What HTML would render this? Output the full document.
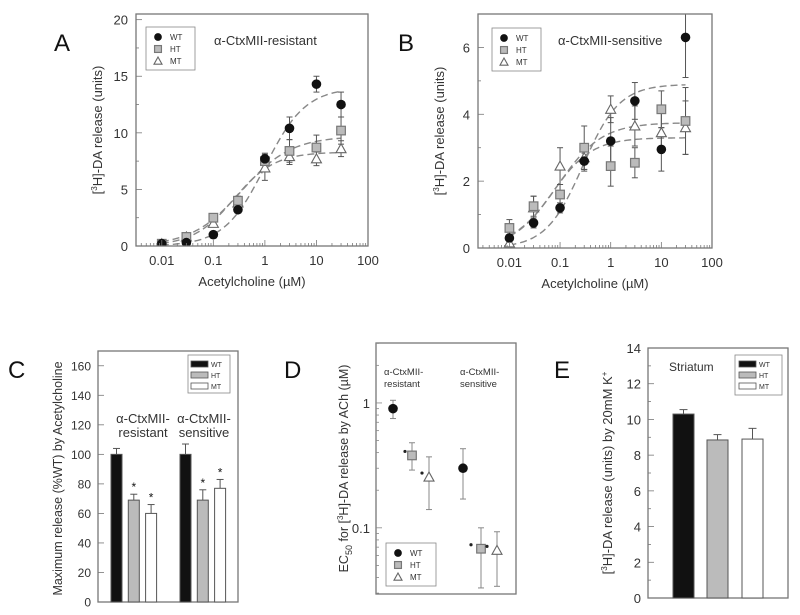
<!DOCTYPE html>
<html><head><meta charset="utf-8">
<style>
body{margin:0;background:#fff;}
svg{display:block;font-family:"Liberation Sans",sans-serif;}
</style></head>
<body>
<svg id="fig" width="800" height="615" viewBox="0 0 800 615"></svg>
<script>
// ---------- Panel A data ----------
const concA = [0.01, 0.03, 0.1, 0.3, 1, 3, 10, 30];
const aWT = [0.2, 0.3, 1.0, 3.2, 7.7, 10.4, 14.3, 12.5];
const aWTerr = [0.1, 0.1, 0.15, 0.2, 0.4, 1.0, 0.7, 1.1];
const aHT = [0.2, 0.8, 2.5, 4.0, 7.5, 8.4, 8.7, 10.2];
const aHTerr = [0.1, 0.15, 0.3, 0.4, 0.7, 1.0, 1.1, 1.2];
const aMT = [0.2, 0.8, 2.0, 3.8, 6.9, 7.9, 7.7, 8.6];
const aMTerr = [0.1, 0.1, 0.3, 0.4, 1.1, 0.7, 0.6, 0.7];
const aFitTop = [14, 9.7, 8.3];
const aFitEC50 = [1.0, 0.35, 0.25];
const aFitHill = [1.1, 0.9, 1.1];
const yTicksA = [0, 5, 10, 15, 20];
const xTickLabels = ["0.01", "0.1", "1", "10", "100"];
const xTickVals = [0.01, 0.1, 1, 10, 100];
// ---------- Panel B data ----------
const concB = [0.01, 0.03, 0.1, 0.3, 1, 3, 10, 30];
const bWT = [0.3, 0.75, 1.2, 2.6, 3.2, 4.4, 2.95, 6.3];
const bWTerr = [0.1, 0.15, 0.15, 0.3, 0.7, 0.55, 0.65, 1.2];
const bHT = [0.6, 1.25, 1.6, 3.0, 2.45, 2.55, 4.15, 3.8];
const bHTerr = [0.25, 0.3, 0.3, 0.65, 0.6, 0.45, 0.55, 1.0];
const bMT = [0.15, 1.2, 2.45, 2.7, 4.15, 3.65, 3.45, 3.6];
const bMTerr = [0.1, 0.35, 0.55, 0.35, 0.4, 0.6, 0.6, 0.8];
const bFitTop = [4.9, 3.3, 3.75];
const bFitEC50 = [0.28, 0.07, 0.09];
const bFitHill = [1.2, 1.1, 1.0];
const yTicksB = [0, 2, 4, 6];
// ---------- Panel C data ----------
const cGroups = ["resistant", "sensitive"];
const cWT = [100, 100];
const cWTerr = [4, 7];
const cHT = [69, 69];
const cHTerr = [4, 7];
const cMT = [60, 77];
const cMTerr = [6, 6];
const yTicksC = [0, 20, 40, 60, 80, 100, 120, 140, 160];
// ---------- Panel D data ----------
const dWT = [0.9, 0.30];
const dWTlo = [0.75, 0.17];
const dWThi = [1.05, 0.43];
const dHT = [0.38, 0.068];
const dHTlo = [0.29, 0.033];
const dHThi = [0.48, 0.10];
const dMT = [0.255, 0.066];
const dMTlo = [0.14, 0.034];
const dMThi = [0.37, 0.093];
// ---------- Panel E data ----------
const eLabels = ["WT", "HT", "MT"];
const eVals = [10.3, 8.85, 8.9];
const eErr = [0.25, 0.3, 0.6];
const yTicksE = [0, 2, 4, 6, 8, 10, 12, 14];

const svg = document.getElementById('fig');
const NS = 'http://www.w3.org/2000/svg';
function mk(tag, attrs, parent) {
  const e = document.createElementNS(NS, tag);
  for (const k in attrs) e.setAttribute(k, attrs[k]);
  (parent || svg).appendChild(e);
  return e;
}
function txt(s, x, y, size, opts, parent) {
  const t = mk('text', Object.assign({x: x, y: y, 'font-size': size, fill: '#333'}, opts || {}), parent);
  t.textContent = s;
  return t;
}
const L10 = Math.log10;
const defs = mk('defs', {});

function marker(kind, x, y, g, s) {
  s = s || 1;
  let m;
  if (kind === 0) m = mk('circle', {cx: x, cy: y, r: 4.8 * s, fill: '#111'}, g);
  else if (kind === 1) m = mk('rect', {x: x - 4.3 * s, y: y - 4.3 * s, width: 8.6 * s, height: 8.6 * s, fill: '#bbb', stroke: '#777', 'stroke-width': 1.2}, g);
  else m = mk('path', {d: `M${x},${y - 5 * s} L${x + 5 * s},${y + 4 * s} L${x - 5 * s},${y + 4 * s} Z`, fill: '#fff', stroke: '#666', 'stroke-width': 1.1}, g);
  return m;
}
function errbar(x, y1, y2, g, col) {
  mk('line', {x1: x, x2: x, y1: y1, y2: y2, stroke: col || '#666', 'stroke-width': 1}, g);
  mk('line', {x1: x - 3, x2: x + 3, y1: y1, y2: y1, stroke: col || '#666', 'stroke-width': 1}, g);
  mk('line', {x1: x - 3, x2: x + 3, y1: y2, y2: y2, stroke: col || '#666', 'stroke-width': 1}, g);
}
function legendMarkers(g, x, y, dy, fs) {
  const names = ['WT', 'HT', 'MT'];
  for (let i = 0; i < 3; i++) {
    marker(i, x, y + i * dy, g, 0.8);
    txt(names[i], x + 12, y + i * dy + 3, fs, {}, g);
  }
}
function legendBars(g, x, y, dy, fs) {
  const fills = ['#111', '#bbb', '#fff'];
  const names = ['WT', 'HT', 'MT'];
  for (let i = 0; i < 3; i++) {
    mk('rect', {x: x, y: y + i * dy - 3, width: 17, height: 6, fill: fills[i], stroke: '#555', 'stroke-width': 0.8}, g);
    txt(names[i], x + 20, y + i * dy + 3, fs, {}, g);
  }
}

// ---------- dose-response panel ----------
function doseResponse(cfg) {
  const g = mk('g', {});
  
  
  const {L, R, T, B, xmin, xmax, ymax} = cfg;
  const sx = v => L + (L10(v) - xmin) / (xmax - xmin) * (R - L);
  const sy = v => B - v / ymax * (B - T);
  const cp = mk('clipPath', {id: 'clip-' + cfg.name}, defs);
  mk('rect', {x: L, y: T, width: R - L, height: B - T}, cp);
  const pg = mk('g', {'clip-path': `url(#clip-${cfg.name})`}, g);
  mk('rect', {x: L, y: T, width: R - L, height: B - T, fill: 'none', stroke: '#777', 'stroke-width': 1.3}, g);
  for (let d = Math.floor(xmin); d < xmax; d++) {
    for (let k = 1; k < 10; k++) {
      const v = k * Math.pow(10, d);
      if (L10(v) < xmin) continue;
      const x = sx(v);
      const len = k === 1 ? 6 : 3;
      mk('line', {x1: x, x2: x, y1: B, y2: B - len, stroke: '#777', 'stroke-width': 0.8}, g);
    }
  }
  xTickVals.forEach((v, i) => {
    const t = txt(xTickLabels[i], sx(v), B + 19, 13, {'text-anchor': 'middle'}, g);
    
    
  });
  cfg.yticks.forEach(v => {
    mk('line', {x1: L, x2: L + 6, y1: sy(v), y2: sy(v), stroke: '#777', 'stroke-width': 0.8}, g);
    const t = txt(String(v), L - 8, sy(v) + 5, 13, {'text-anchor': 'end'}, g);
    
    
  });
  for (let i = 0; i < cfg.yticks.length - 1; i++) {
    const m = (cfg.yticks[i] + cfg.yticks[i + 1]) / 2;
    mk('line', {x1: L, x2: L + 3, y1: sy(m), y2: sy(m), stroke: '#777', 'stroke-width': 0.8}, g);
  }
  for (let s = 0; s < 3; s++) {
    let d = '';
    for (let i = 0; i <= 100; i++) {
      const lx = L10(cfg.conc[0]) + (L10(cfg.conc[cfg.conc.length - 1]) - L10(cfg.conc[0])) * i / 100;
      const c = Math.pow(10, lx);
      const r = Math.pow(c / cfg.ec50[s], cfg.hill[s]);
      const v = cfg.top[s] * r / (1 + r);
      d += (i ? 'L' : 'M') + sx(c).toFixed(1) + ',' + sy(v).toFixed(1);
    }
    const p = mk('path', {d: d, fill: 'none', stroke: '#888', 'stroke-width': 1.4, 'stroke-dasharray': '7,4'}, pg);
    
    
  }
  const series = [cfg.s[0], cfg.s[1], cfg.s[2]];
  series.forEach((s, k) => {
    s.v.forEach((v, i) => {
      errbar(sx(cfg.conc[i]), sy(v - s.e[i]), sy(v + s.e[i]), pg, '#555');
    });
  });
  [2, 1, 0].forEach(k => {
    const s = series[k];
    s.v.forEach((v, i) => {
      const m = marker(k, sx(cfg.conc[i]), sy(v), pg);
      
      
    });
  });
  const lg = mk('g', {}, g);
  
  
  mk('rect', {x: cfg.leg[0], y: cfg.leg[1], width: 49, height: 43, fill: '#fff', stroke: '#888', 'stroke-width': 0.8}, lg);
  legendMarkers(lg, cfg.leg[0] + 12, cfg.leg[1] + 10, 12, 8);
  const tt = txt(cfg.title, cfg.titleX, 45, 13, {}, g);
  
  
  const xl = txt('Acetylcholine (µM)', (L + R) / 2, B + 40, 13, {'text-anchor': 'middle'}, g);
  
  
  const yl = mk('text', {x: 0, y: 0, 'font-size': 13, fill: '#333', 'text-anchor': 'middle', transform: `translate(${L - 34},${(T + B) / 2}) rotate(-90)`}, g);
  yl.innerHTML = '[<tspan font-size="8" dy="-5">3</tspan><tspan dy="5">H]-DA release (units)</tspan>';
  
  
  const pl = txt(cfg.letter, cfg.letterX, 51, 24, {fill: '#111'}, g);
  
  
}

doseResponse({name: 'panel-a-chart', L: 136, R: 368, T: 14, B: 246, xmin: -2.5, xmax: 2, ymax: 20.5,
  conc: concA, yticks: yTicksA, top: aFitTop, ec50: aFitEC50, hill: aFitHill,
  s: [{v: aWT, e: aWTerr}, {v: aHT, e: aHTerr}, {v: aMT, e: aMTerr}],
  leg: [146, 27], title: 'α-CtxMII-resistant', titleX: 214, letter: 'A', letterX: 54});
doseResponse({name: 'panel-b-chart', L: 478, R: 712, T: 14, B: 248, xmin: -2.62, xmax: 2, ymax: 7.0,
  conc: concB, yticks: yTicksB, top: bFitTop, ec50: bFitEC50, hill: bFitHill,
  s: [{v: bWT, e: bWTerr}, {v: bHT, e: bHTerr}, {v: bMT, e: bMTerr}],
  leg: [492, 28], title: 'α-CtxMII-sensitive', titleX: 558, letter: 'B', letterX: 398});

// ---------- Panel C ----------
(function () {
  const g = mk('g', {});
  
  
  const L = 98, R = 238, T = 351, B = 602, ymax = 170;
  const sy = v => B - v / ymax * (B - T);
  mk('rect', {x: L, y: T, width: R - L, height: B - T, fill: 'none', stroke: '#777', 'stroke-width': 1.3}, g);
  yTicksC.forEach(v => {
    mk('line', {x1: L, x2: L + 6, y1: sy(v), y2: sy(v), stroke: '#777', 'stroke-width': 0.8}, g);
    txt(String(v), L - 7, sy(v) + 4.5, 12, {'text-anchor': 'end'}, g);
  });
  const groupX = [111, 180];
  const step = 17.3, bw = 11;
  const fills = ['#111', '#bbb', '#fff'];
  const vals = [cWT, cHT, cMT], errs = [cWTerr, cHTerr, cMTerr];
  cGroups.forEach((gname, gi) => {
    for (let k = 0; k < 3; k++) {
      const x = groupX[gi] + k * step;
      const v = vals[k][gi], e = errs[k][gi];
      const cx = x + bw / 2;
      mk('line', {x1: cx, x2: cx, y1: sy(v), y2: sy(v + e), stroke: '#555', 'stroke-width': 1}, g);
      mk('line', {x1: cx - 3.5, x2: cx + 3.5, y1: sy(v + e), y2: sy(v + e), stroke: '#555', 'stroke-width': 1}, g);
      const b = mk('rect', {x: x, y: sy(v), width: bw, height: B - sy(v), fill: fills[k], stroke: '#555', 'stroke-width': 1}, g);
      
      
      if (k > 0) txt('*', cx, sy(v + e) - 3, 12, {'text-anchor': 'middle', fill: '#111'}, g);
    }
  });
  txt('α-CtxMII-', 143, 423, 13, {'text-anchor': 'middle'}, g);
  txt('resistant', 143, 437, 13, {'text-anchor': 'middle'}, g);
  txt('α-CtxMII-', 204, 423, 13, {'text-anchor': 'middle'}, g);
  txt('sensitive', 204, 437, 13, {'text-anchor': 'middle'}, g);
  const lg = mk('g', {}, g);
  
  
  mk('rect', {x: 188, y: 355, width: 42, height: 38, fill: '#fff', stroke: '#888', 'stroke-width': 0.8}, lg);
  legendBars(lg, 191, 364, 11, 7);
  const yl = mk('text', {x: 0, y: 0, 'font-size': 12.5, fill: '#333', 'text-anchor': 'middle', transform: `translate(62,${(T + B) / 2 + 2}) rotate(-90)`}, g);
  yl.textContent = 'Maximum release (%WT) by Acetylcholine';
  
  
  const pl = txt('C', 8, 378, 24, {fill: '#111'}, g);
  
  
})();

// ---------- Panel D ----------
(function () {
  const g = mk('g', {});
  
  
  const L = 376, R = 516, T = 343, B = 594, ymin = -1.53, ymax = 0.48;
  const sy = v => B - (L10(v) - ymin) / (ymax - ymin) * (B - T);
  mk('rect', {x: L, y: T, width: R - L, height: B - T, fill: 'none', stroke: '#777', 'stroke-width': 1.3}, g);
  for (let d = -2; d <= 0; d++) for (let k = 1; k < 10; k++) {
    const v = k * Math.pow(10, d);
    if (L10(v) < ymin || L10(v) > ymax) continue;
    mk('line', {x1: L, x2: L + (k === 1 ? 6 : 3), y1: sy(v), y2: sy(v), stroke: '#888', 'stroke-width': 0.8}, g);
  }
  txt('1', L - 6, sy(1) + 5, 13, {'text-anchor': 'end'}, g);
  txt('0.1', L - 6, sy(0.1) + 5, 13, {'text-anchor': 'end'}, g);
  const xs = [[393, 463], [412, 481], [429, 497]];
  const vals = [dWT, dHT, dMT], lo = [dWTlo, dHTlo, dMTlo], hi = [dWThi, dHThi, dMThi];
  for (let k = 0; k < 3; k++) for (let i = 0; i < 2; i++) {
    const x = xs[k][i];
    errbar(x, sy(lo[k][i]), sy(hi[k][i]), g, '#888');
    const m = marker(k, x, sy(vals[k][i]), g);
    
    
    if (k > 0) mk('circle', {cx: x - 7 - (i ? 3 : 0), cy: sy(vals[k][i]) - 4, r: 1.6, fill: '#222'}, g);
  }
  txt('α-CtxMII-', 384, 375, 9.5, {}, g);
  txt('resistant', 384, 387, 9.5, {}, g);
  txt('α-CtxMII-', 460, 375, 9.5, {}, g);
  txt('sensitive', 460, 387, 9.5, {}, g);
  const lg = mk('g', {}, g);
  
  
  mk('rect', {x: 386, y: 543, width: 50, height: 43, fill: '#fff', stroke: '#888', 'stroke-width': 0.8}, lg);
  legendMarkers(lg, 398, 553, 12, 8);
  const yl = mk('text', {x: 0, y: 0, 'font-size': 12.5, fill: '#333', 'text-anchor': 'middle', transform: `translate(348,${(T + B) / 2}) rotate(-90)`}, g);
  yl.innerHTML = 'EC<tspan font-size="9" dy="4">50</tspan><tspan dy="-4"> for [</tspan><tspan font-size="8" dy="-5">3</tspan><tspan dy="5">H]-DA release by ACh (µM)</tspan>';
  
  
  const pl = txt('D', 284, 378, 24, {fill: '#111'}, g);
  
  
})();

// ---------- Panel E ----------
(function () {
  const g = mk('g', {});
  
  
  const L = 648, R = 788, T = 348, B = 598, ymax = 14;
  const sy = v => B - v / ymax * (B - T);
  mk('rect', {x: L, y: T, width: R - L, height: B - T, fill: 'none', stroke: '#777', 'stroke-width': 1.3}, g);
  yTicksE.forEach(v => {
    mk('line', {x1: L, x2: L + 6, y1: sy(v), y2: sy(v), stroke: '#777', 'stroke-width': 0.8}, g);
    if (v + 1 < ymax) mk('line', {x1: L, x2: L + 3, y1: sy(v + 1), y2: sy(v + 1), stroke: '#777', 'stroke-width': 0.8}, g);
    txt(String(v), L - 7, sy(v) + 5, 13, {'text-anchor': 'end'}, g);
  });
  const xs = [673, 707, 742], fills = ['#111', '#bbb', '#fff'];
  eVals.forEach((v, i) => {
    const cx = xs[i] + 10.5;
    mk('line', {x1: cx, x2: cx, y1: sy(v), y2: sy(v + eErr[i]), stroke: '#555', 'stroke-width': 1}, g);
    mk('line', {x1: cx - 4, x2: cx + 4, y1: sy(v + eErr[i]), y2: sy(v + eErr[i]), stroke: '#555', 'stroke-width': 1}, g);
    const b = mk('rect', {x: xs[i], y: sy(v), width: 21, height: B - sy(v), fill: fills[i], stroke: '#555', 'stroke-width': 1}, g);
    
    
  });
  txt('Striatum', 669, 371, 12, {}, g);
  const lg = mk('g', {}, g);
  
  
  mk('rect', {x: 735, y: 355, width: 47, height: 40, fill: '#fff', stroke: '#888', 'stroke-width': 0.8}, lg);
  legendBars(lg, 739, 364, 11, 7);
  const yl = mk('text', {x: 0, y: 0, 'font-size': 13, fill: '#333', 'text-anchor': 'middle', transform: `translate(612,${(T + B) / 2}) rotate(-90)`}, g);
  yl.innerHTML = '[<tspan font-size="8" dy="-5">3</tspan><tspan dy="5">H]-DA release (units) by 20mM K</tspan><tspan font-size="8" dy="-5">+</tspan>';
  
  
  const pl = txt('E', 554, 378, 24, {fill: '#111'}, g);
  
  
})();
</script>
</body></html>
